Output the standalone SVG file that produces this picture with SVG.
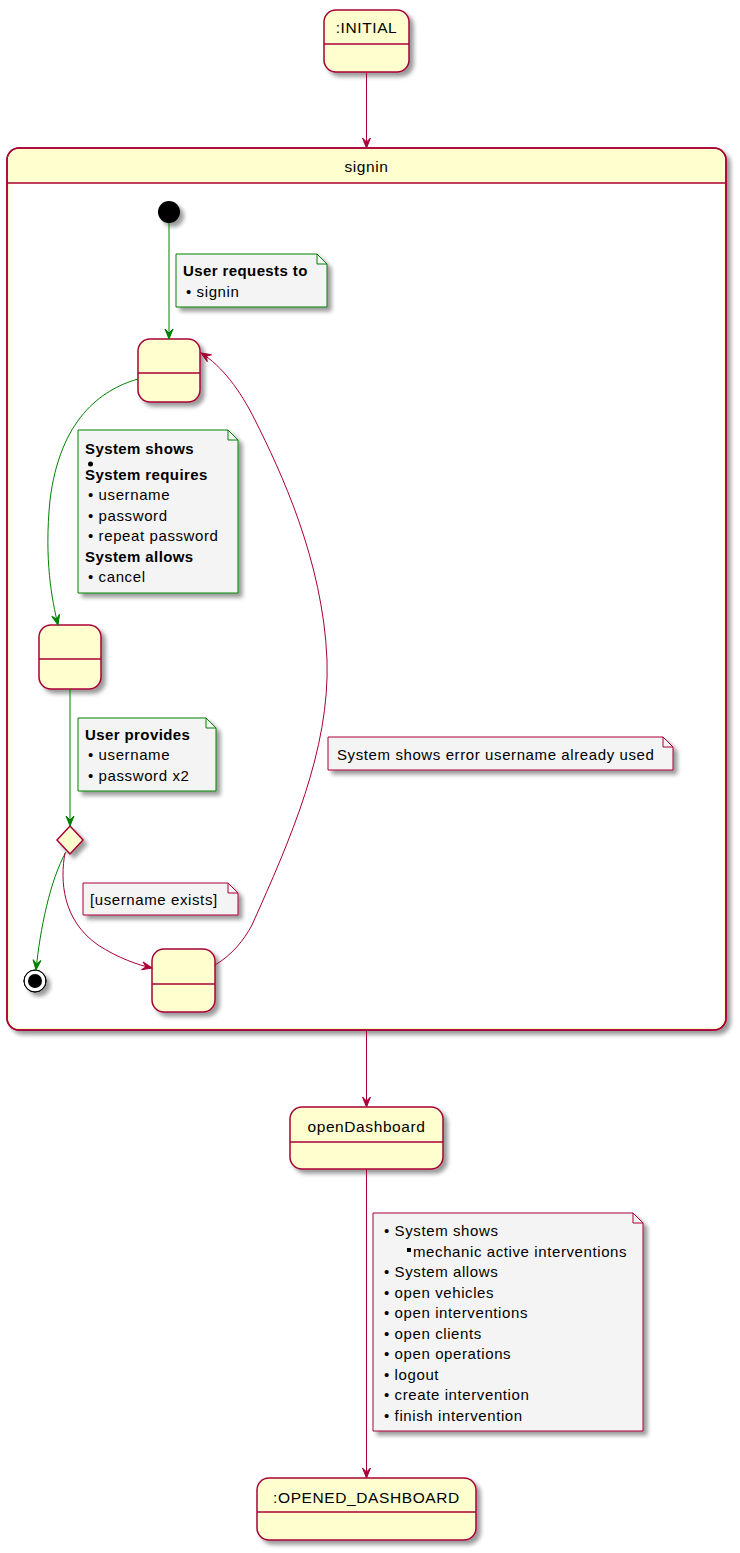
<svg xmlns="http://www.w3.org/2000/svg" width="740" height="1553" viewBox="0 0 740 1553">
<style>
.st{fill:#FEFECE;stroke:#A80036;stroke-width:1.5;filter:url(#sh)}
.dv{stroke:#A80036;stroke-width:1.5}
.t{font-family:"Liberation Sans",Arial,sans-serif;font-size:15.5px;letter-spacing:0.6px;fill:#000}
.n{font-family:"Liberation Sans",Arial,sans-serif;font-size:15px;letter-spacing:0.6px;fill:#000}
.b{font-weight:bold;letter-spacing:0.4px}
.nr{fill:#F4F4F4;stroke:#A80036;stroke-width:1;filter:url(#sh)}
.ng{fill:#F4F4F4;stroke:#008000;stroke-width:1;filter:url(#sh)}
.cr{fill:none;stroke:#A80036;stroke-width:1}
.cg{fill:none;stroke:#008000;stroke-width:1}
</style>
<defs>
<filter id="sh" x="-20%" y="-20%" width="150%" height="150%">
<feGaussianBlur in="SourceAlpha" stdDeviation="2"/>
<feOffset dx="4" dy="4" result="o"/>
<feComponentTransfer><feFuncA type="linear" slope="0.4"/></feComponentTransfer>
<feMerge><feMergeNode/><feMergeNode in="SourceGraphic"/></feMerge>
</filter>
<marker id="ar" viewBox="-11 -5 12 10" refX="0" refY="0" markerWidth="12" markerHeight="10" markerUnits="userSpaceOnUse" orient="auto">
<path d="M0,0 L-10,-4 L-6,0 L-10,4 Z" fill="#A80036" stroke="#A80036" stroke-width="1"/>
</marker>
<marker id="ag" viewBox="-11 -5 12 10" refX="0" refY="0" markerWidth="12" markerHeight="10" markerUnits="userSpaceOnUse" orient="auto">
<path d="M0,0 L-10,-4 L-6,0 L-10,4 Z" fill="#008000" stroke="#008000" stroke-width="1"/>
</marker>
</defs>

<g id="initial">
<rect class="st" x="324" y="10" width="85" height="62" rx="12"/>
<line class="dv" x1="324" y1="44" x2="409" y2="44"/>
<text class="t" x="366.5" y="33" text-anchor="middle">:INITIAL</text>
</g>

<g id="signin">
<rect class="st" x="7" y="148" width="719" height="882" rx="12"/>
<rect x="9" y="184" width="715" height="834" fill="#FFFFFF"/>
<path d="M9,1010 L9,1016 Q9,1028 21,1028 L712,1028 Q724,1028 724,1016 L724,1010 Z" fill="#FFFFFF"/>
<rect x="7" y="148" width="719" height="882" rx="12" fill="none" stroke="#A80036" stroke-width="1.5"/>
<line class="dv" x1="7" y1="183" x2="726" y2="183"/>
<text class="t" x="366.5" y="172" text-anchor="middle">signin</text>
</g>

<g id="start">
<circle cx="169" cy="212" r="11" fill="#000" filter="url(#sh)"/>
</g>

<g id="s1">
<rect class="st" x="138" y="339" width="62" height="63" rx="12"/>
<line class="dv" x1="138" y1="373" x2="200" y2="373"/>
</g>

<g id="s2">
<rect class="st" x="39" y="625" width="62" height="64" rx="12"/>
<line class="dv" x1="39" y1="659" x2="101" y2="659"/>
</g>

<g id="choice">
<polygon class="st" points="70,826 83,840 70,854 57,840"/>
</g>

<g id="end">
<circle cx="35" cy="981" r="11" fill="#fff" stroke="#000" stroke-width="1" filter="url(#sh)"/>
<circle cx="35" cy="981" r="11" fill="none" stroke="#000" stroke-width="1"/>
<circle cx="35" cy="981" r="7" fill="#000"/>
</g>

<g id="s3">
<rect class="st" x="152" y="949" width="63" height="63" rx="12"/>
<line class="dv" x1="152" y1="984" x2="215" y2="984"/>
</g>

<g id="openDashboard">
<rect class="st" x="290" y="1107" width="153" height="62" rx="12"/>
<line class="dv" x1="290" y1="1142" x2="443" y2="1142"/>
<text class="t" x="366.5" y="1132" text-anchor="middle">openDashboard</text>
</g>

<g id="opened">
<rect class="st" x="257" y="1478" width="219" height="62" rx="12"/>
<line class="dv" x1="257" y1="1512" x2="476" y2="1512"/>
<text class="t" x="366.5" y="1503" text-anchor="middle">:OPENED_DASHBOARD</text>
</g>

<g id="connectors">
<line class="cr" x1="366.5" y1="72" x2="366.5" y2="148" marker-end="url(#ar)"/>
<line class="cg" x1="169" y1="223" x2="169" y2="339" marker-end="url(#ag)"/>
<path class="cg" d="M138,379 C100,390 60,420 50,500 C44,560 52,600 58,625" marker-end="url(#ag)"/>
<line class="cg" x1="70" y1="689" x2="70" y2="826" marker-end="url(#ag)"/>
<path class="cg" d="M66,852 C50,880 40,930 36,970" marker-end="url(#ag)"/>
<path class="cr" d="M65,853 C60,880 62,920 98,945 C118,958 138,965 152,968" marker-end="url(#ar)"/>
<path class="cr" d="M215,965 C232,955 244,940 252,925 C290,840 330,750 327,660 C323,560 280,470 255,420 C240,390 222,366 201,353" marker-end="url(#ar)"/>
<line class="cr" x1="366.5" y1="1030" x2="366.5" y2="1107" marker-end="url(#ar)"/>
<line class="cr" x1="366.5" y1="1169" x2="366.5" y2="1478" marker-end="url(#ar)"/>
</g>

<g id="note1">
<path class="ng" d="M176,254 L317,254 L327,264 L327,307 L176,307 Z"/>
<path d="M317,254 L317,264 L327,264" fill="none" stroke="#008000" stroke-width="1"/>
<text class="n b" x="183" y="276">User requests to</text>
<text class="n" x="186" y="297">• signin</text>
</g>

<g id="note2">
<path class="ng" d="M78,430 L228,430 L238,440 L238,593 L78,593 Z"/>
<path d="M228,430 L228,440 L238,440" fill="none" stroke="#008000" stroke-width="1"/>
<text class="n b" x="85" y="454">System shows</text>
<circle cx="90.5" cy="464" r="2.5" fill="#000"/>
<text class="n b" x="85" y="480">System requires</text>
<text class="n" x="88" y="500">• username</text>
<text class="n" x="88" y="521">• password</text>
<text class="n" x="88" y="541">• repeat password</text>
<text class="n b" x="85" y="562">System allows</text>
<text class="n" x="88" y="582">• cancel</text>
</g>

<g id="note3">
<path class="ng" d="M78,718 L206,718 L216,728 L216,791 L78,791 Z"/>
<path d="M206,718 L206,728 L216,728" fill="none" stroke="#008000" stroke-width="1"/>
<text class="n b" x="85" y="740">User provides</text>
<text class="n" x="88" y="760">• username</text>
<text class="n" x="88" y="781">• password x2</text>
</g>

<g id="note4">
<path class="nr" d="M83,883 L228,883 L238,893 L238,915 L83,915 Z"/>
<path d="M228,883 L228,893 L238,893" fill="none" stroke="#A80036" stroke-width="1"/>
<text class="n" x="90" y="905">[username exists]</text>
</g>

<g id="note5">
<path class="nr" d="M328,737 L663,737 L673,747 L673,770 L328,770 Z"/>
<path d="M663,737 L663,747 L673,747" fill="none" stroke="#A80036" stroke-width="1"/>
<text class="n" x="337" y="760">System shows error username already used</text>
</g>

<g id="note6">
<path class="nr" d="M373,1213 L633,1213 L643,1223 L643,1431 L373,1431 Z"/>
<path d="M633,1213 L633,1223 L643,1223" fill="none" stroke="#A80036" stroke-width="1"/>
<text class="n" x="384" y="1236">• System shows</text>
<rect x="407" y="1248" width="4" height="4" fill="#000"/>
<text class="n" x="413" y="1257">mechanic active interventions</text>
<text class="n" x="384" y="1277">• System allows</text>
<text class="n" x="384" y="1298">• open vehicles</text>
<text class="n" x="384" y="1318">• open interventions</text>
<text class="n" x="384" y="1339">• open clients</text>
<text class="n" x="384" y="1359">• open operations</text>
<text class="n" x="384" y="1380">• logout</text>
<text class="n" x="384" y="1400">• create intervention</text>
<text class="n" x="384" y="1421">• finish intervention</text>
</g>
</svg>
